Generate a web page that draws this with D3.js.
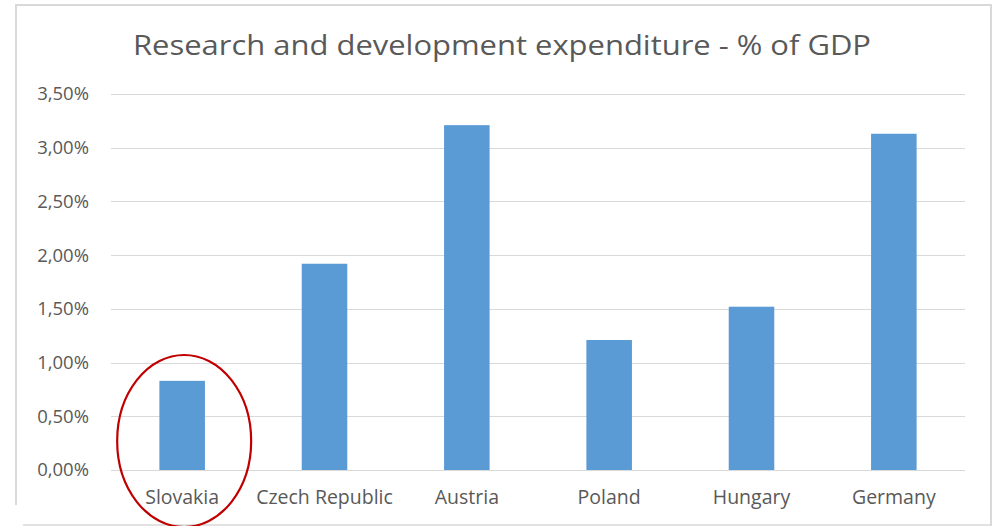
<!DOCTYPE html>
<html><head><meta charset="utf-8">
<script src="https://cdn.jsdelivr.net/npm/d3@7"></script>
<style>body{margin:0;background:#fff;}svg{display:block;}</style>
</head><body>
<svg id="chart" width="997" height="526"></svg>
<script>
const categories = ["Slovakia","Czech Republic","Austria","Poland","Hungary","Germany"];
const values = [0.83, 1.92, 3.21, 1.21, 1.52, 3.13];
const yTicks = [0, 0.5, 1.0, 1.5, 2.0, 2.5, 3.0, 3.5];
const title = "Research and development expenditure - % of GDP";
const highlighted = "Slovakia";

const svg = d3.select("#chart");
const W = 997, H = 526;
const m = {left: 111, right: 32, top: 94, bottom: 56};
const x = d3.scaleBand().domain(categories).range([m.left, W - m.right]).paddingInner(0.68).paddingOuter(0.34);
const y = d3.scaleLinear().domain([0, 3.5]).range([H - m.bottom, m.top]);

// frame
const frame = svg.append("g").attr("stroke", "#D9D9D9").attr("stroke-width", 2).attr("fill", "none");
frame.append("path").attr("d", "M16,505 L16,5 L991,5 L991,526");
frame.append("path").attr("d", "M23,525 L991,525").attr("stroke-width", 1.5);

// title
svg.append("text").attr("x", 502).attr("y", 55).attr("text-anchor", "middle")
  .attr("font-family", "Open Sans").attr("font-size", 27).attr("fill", "#595959")
  .attr("textLength", 738).attr("lengthAdjust", "spacingAndGlyphs")
  .text(title);

// grid
const fmt = v => v.toFixed(2).replace(".", ",") + "%";
svg.append("g").selectAll("line").data(yTicks).join("line")
  .attr("x1", m.left).attr("x2", W - m.right)
  .attr("y1", d => Math.round(y(d)) + 0.5).attr("y2", d => Math.round(y(d)) + 0.5)
  .attr("stroke", "#D9D9D9").attr("stroke-width", 1);

// y axis labels
const yAxis = svg.append("g").attr("transform", `translate(${m.left},0)`)
  .call(d3.axisLeft(y).tickValues(yTicks).tickFormat(fmt).tickSize(0).tickPadding(22));
yAxis.select(".domain").remove();
yAxis.selectAll("text").attr("font-family", "Open Sans").attr("font-size", 18.5).attr("fill", "#595959");

// bars
svg.append("g").selectAll("rect").data(categories).join("rect")
  .attr("x", d => x(d)).attr("width", x.bandwidth())
  .attr("y", (d, i) => y(values[i])).attr("height", (d, i) => y(0) - y(values[i]))
  .attr("fill", "#5B9BD5");

// x axis labels
const xAxis = svg.append("g").attr("transform", `translate(0,${y(0)})`)
  .call(d3.axisBottom(x).tickSize(0).tickPadding(20));
xAxis.select(".domain").remove();
xAxis.selectAll("text").attr("font-family", "Open Sans").attr("font-size", 19.5).attr("fill", "#595959");

// highlight ellipse
svg.append("ellipse")
  .attr("cx", x(highlighted) + x.bandwidth() / 2 + 2).attr("cy", 441)
  .attr("rx", 67).attr("ry", 86)
  .attr("fill", "none").attr("stroke", "#C00000").attr("stroke-width", 2.2);
</script>
</body></html>
